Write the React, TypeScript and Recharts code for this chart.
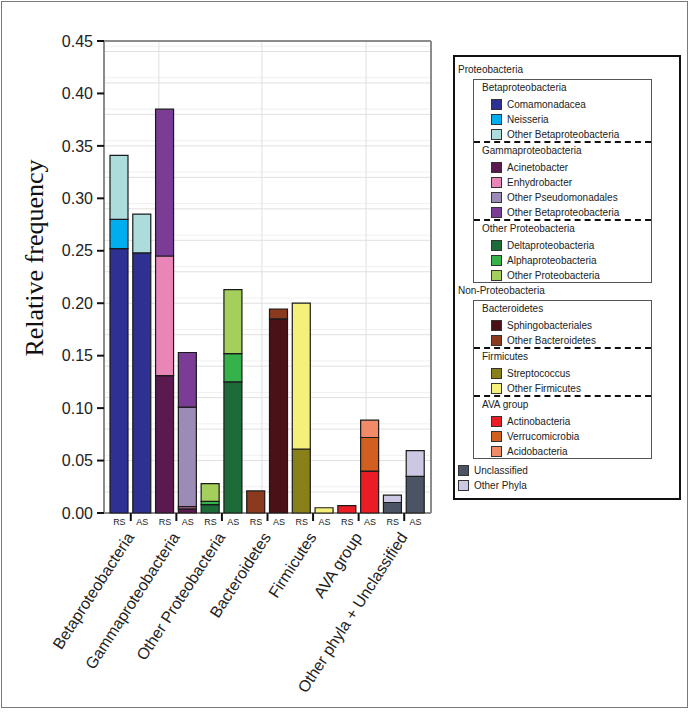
import React from 'react';
import { BarChart, Bar, XAxis, YAxis, CartesianGrid } from 'recharts';

const GROUPS = [
  'Betaproteobacteria',
  'Gammaproteobacteria',
  'Other Proteobacteria',
  'Bacteroidetes',
  'Firmicutes',
  'AVA group',
  'Other phyla + Unclassified',
];
const SITES = ['RS', 'AS'];
const Y_TICKS = [0, 0.05, 0.1, 0.15, 0.2, 0.25, 0.3, 0.35, 0.4, 0.45];
// light background grid (values on the y axis / slot positions on x)
const GRID_Y_MAJOR = Array.from({ length: 44 }, (_, i) => (i + 1) / 100);
const GRID_Y_MINOR = Array.from({ length: 45 }, (_, i) => (2 * i + 1) / 200);
const GRID_X = [2.35, 6.76, 11.22];

// [RS, AS] per series
const COMAMONADACEA = [0.252, 0.248];
const NEISSERIA = [0.028, null];
const OTHER_BETA = [0.061, 0.037];
const ACINETOBACTER = [0.131, 0.004];
const ENHYDROBACTER = [0.114, 0.002];
const OTHER_PSEUDOMONADALES = [null, 0.095];
const OTHER_GAMMA = [0.14, 0.052];
const DELTA = [0.008, 0.125];
const ALPHA = [0.003, 0.027];
const OTHER_PROTEO = [0.017, 0.061];
const SPHINGO = [null, 0.185];
const OTHER_BACT = [0.021, 0.0095];
const STREPTOCOCCUS = [0.061, null];
const OTHER_FIRM = [0.139, 0.005];
const ACTINO = [0.007, 0.04];
const VERRUCO = [null, 0.032];
const ACIDO = [null, 0.0165];
const UNCLASSIFIED = [0.01, 0.035];
const OTHER_PHYLA = [0.007, 0.0245];

const SERIES = [
  { key: 'comam', name: 'Comamonadacea', color: '#2e3192', group: 0, values: COMAMONADACEA },
  { key: 'neis', name: 'Neisseria', color: '#00aeef', group: 0, values: NEISSERIA },
  { key: 'obeta', name: 'Other Betaproteobacteria', color: '#acdcdc', group: 0, values: OTHER_BETA },
  { key: 'acin', name: 'Acinetobacter', color: '#5a1a4f', group: 1, values: ACINETOBACTER },
  { key: 'enhy', name: 'Enhydrobacter', color: '#e985b7', group: 1, values: ENHYDROBACTER },
  { key: 'opseudo', name: 'Other Pseudomonadales', color: '#9b8bb6', group: 1, values: OTHER_PSEUDOMONADALES },
  { key: 'ogamma', name: 'Other Betaproteobacteria', color: '#7b3c96', group: 1, values: OTHER_GAMMA },
  { key: 'delta', name: 'Deltaproteobacteria', color: '#1e6b3a', group: 2, values: DELTA },
  { key: 'alpha', name: 'Alphaproteobacteria', color: '#35b34a', group: 2, values: ALPHA },
  { key: 'oproteo', name: 'Other Proteobacteria', color: '#a4cf5c', group: 2, values: OTHER_PROTEO },
  { key: 'sphingo', name: 'Sphingobacteriales', color: '#4a1116', group: 3, values: SPHINGO },
  { key: 'obact', name: 'Other Bacteroidetes', color: '#8c3a1d', group: 3, values: OTHER_BACT },
  { key: 'strep', name: 'Streptococcus', color: '#8a8019', group: 4, values: STREPTOCOCCUS },
  { key: 'ofirm', name: 'Other Firmicutes', color: '#f4f07a', group: 4, values: OTHER_FIRM },
  { key: 'actino', name: 'Actinobacteria', color: '#eb1c24', group: 5, values: ACTINO },
  { key: 'verruco', name: 'Verrucomicrobia', color: '#d15f20', group: 5, values: VERRUCO },
  { key: 'acido', name: 'Acidobacteria', color: '#f08a68', group: 5, values: ACIDO },
  { key: 'uncl', name: 'Unclassified', color: '#4b5465', group: 6, values: UNCLASSIFIED },
  { key: 'ophyla', name: 'Other Phyla', color: '#cbc8e4', group: 6, values: OTHER_PHYLA },
];

const data = GROUPS.flatMap((g, gi) =>
  SITES.map((site, si) => {
    const row: Record<string, any> = { site, group: g, pos: gi * 2 + si + 0.5 };
    SERIES.filter(s => s.group === gi).forEach(s => {
      if (s.values[si] != null) row[s.key] = s.values[si];
    });
    return row;
  })
);

const SANS = '"Liberation Sans", Arial, sans-serif';

const SiteTick = (props: any) => {
  const { x, y, payload } = props;
  const idx = payload.index;
  const half = payload.offset || 11.4;
  const isAS = idx % 2 === 1;
  const gx = x - half;
  return (
    <g>
      <text x={x} y={y + 12} textAnchor="middle" fontSize={9} fontFamily={SANS} fill="#222">
        {payload.value}
      </text>
      {isAS && (
        <>
          <line x1={gx} x2={gx} y1={y} y2={y + 8} stroke="#111" strokeWidth={2} />
          <text
            x={gx + 4}
            y={y + 24}
            textAnchor="end"
            fontSize={16}
            fontFamily={SANS}
            fill="#222"
            transform={`rotate(-57, ${gx + 4}, ${y + 24})`}
          >
            {data[idx].group}
          </text>
        </>
      )}
    </g>
  );
};

const YLabel = (props: any) => {
  const { viewBox } = props;
  const x = viewBox.x - 1;
  const y = viewBox.y + viewBox.height / 2 - 19;
  return (
    <text
      x={x}
      y={y}
      textAnchor="middle"
      fontSize={26}
      fontFamily={'"Liberation Serif", "Times New Roman", serif'}
      fill="#111"
      transform={`rotate(-90, ${x}, ${y})`}
    >
      Relative frequency
    </text>
  );
};

const Swatch = ({ color }: { color: string }) => (
  <span
    style={{
      display: 'inline-block',
      width: 11,
      height: 11,
      background: color,
      border: '1px solid #333',
      boxSizing: 'border-box',
      marginRight: 5,
      verticalAlign: 'middle',
    }}
  />
);

const Item = ({ s, pad }: { s: any; pad: number }) => (
  <div style={{ height: 15, lineHeight: '15px', paddingLeft: pad, whiteSpace: 'nowrap' }}>
    <Swatch color={s.color} />
    <span style={{ verticalAlign: 'middle' }}>{s.name}</span>
  </div>
);

const Section = ({ title, gi, dashed }: { title: string; gi: number; dashed: boolean }) => (
  <div style={{ borderTop: dashed ? '2px dashed #111' : 'none' }}>
    <div style={{ height: 16, lineHeight: '16px', paddingLeft: 8 }}>{title}</div>
    {SERIES.filter(s => s.group === gi).map(s => (
      <Item key={s.key} s={s} pad={17} />
    ))}
  </div>
);

const LegendBox = () => (
  <div
    style={{
      position: 'absolute',
      left: 453,
      top: 55,
      width: 228,
      height: 445,
      border: '2px solid #111',
      boxSizing: 'border-box',
      fontFamily: SANS,
      fontSize: 10,
      color: '#222',
      background: '#fff',
    }}
  >
    <div style={{ height: 16, lineHeight: '16px', marginTop: 5, paddingLeft: 3 }}>Proteobacteria</div>
    <div style={{ marginLeft: 18, width: 177, marginTop: 1, border: '1px solid #555' }}>
      <Section title={GROUPS[0]} gi={0} dashed={false} />
      <Section title={GROUPS[1]} gi={1} dashed={true} />
      <Section title={GROUPS[2]} gi={2} dashed={true} />
    </div>
    <div style={{ height: 16, lineHeight: '16px', paddingLeft: 3 }}>Non-Proteobacteria</div>
    <div style={{ marginLeft: 18, width: 177, marginTop: 1, border: '1px solid #555' }}>
      <Section title={GROUPS[3]} gi={3} dashed={false} />
      <Section title={GROUPS[4]} gi={4} dashed={true} />
      <Section title={GROUPS[5]} gi={5} dashed={true} />
    </div>
    <div style={{ marginTop: 3 }}>
      {SERIES.filter(s => s.group === 6).map(s => (
        <Item key={s.key} s={s} pad={3} />
      ))}
    </div>
  </div>
);

export default function App() {
  return (
    <div style={{ position: 'absolute', left: 0, top: 0, width: 690, height: 713, background: '#fff' }}>
      <div
        style={{
          position: 'absolute',
          left: 1,
          top: 1,
          width: 687,
          height: 707,
          border: '1.5px solid #7a7a7a',
          boxSizing: 'border-box',
        }}
      />
      <BarChart
        width={690}
        height={713}
        data={data}
        margin={{ top: 41, right: 259, left: 44, bottom: 180 }}
        barSize={18}
        style={{ position: 'absolute', left: 0, top: 0 }}
      >
        <XAxis
          xAxisId="slot"
          dataKey="pos"
          type="number"
          domain={[0, 14]}
          allowDataOverflow
          ticks={GRID_X}
          hide
        />
        <XAxis
          dataKey="site"
          height={20}
          padding={{ left: 4, right: 4 }}
          axisLine={false}
          tickLine={false}
          tickSize={0}
          tickMargin={0}
          interval={0}
          tick={<SiteTick />}
        />
        <YAxis
          type="number"
          domain={[0, 0.45]}
          ticks={Y_TICKS}
          width={60}
          axisLine={false}
          tickLine={{ stroke: '#111', strokeWidth: 2 }}
          tickSize={7}
          tickMargin={4}
          tickFormatter={(v: number) => v.toFixed(2)}
          tick={{ fontSize: 16, fontFamily: SANS, fill: '#222' }}
          label={<YLabel />}
        />
        <CartesianGrid xAxisId="slot" vertical={false} horizontalValues={GRID_Y_MINOR} stroke="#f0f0f0" />
        <CartesianGrid xAxisId="slot" vertical={false} horizontalValues={GRID_Y_MAJOR} stroke="#e0e0e0" />
        <CartesianGrid xAxisId="slot" horizontal={false} verticalValues={GRID_X} stroke="#e0e0e0" />
        {/* plot frame */}
        <CartesianGrid
          xAxisId="slot"
          horizontalValues={[0, 0.45]}
          verticalValues={[0, 14]}
          stroke="#8c8c8c"
          strokeWidth={2}
        />
        {SERIES.map(s => (
          <Bar
            key={s.key}
            dataKey={s.key}
            name={s.name}
            stackId="a"
            fill={s.color}
            stroke="#1a1a1a"
            strokeWidth={1.2}
            isAnimationActive={false}
          />
        ))}
      </BarChart>
      <LegendBox />
    </div>
  );
}
